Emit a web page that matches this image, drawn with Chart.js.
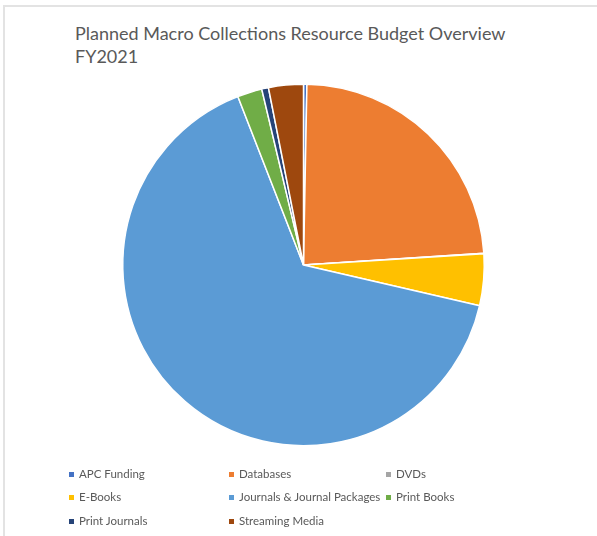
<!DOCTYPE html>
<html>
<head>
<meta charset="utf-8">
<script src="https://cdn.jsdelivr.net/npm/chart.js@4.4.1/dist/chart.umd.min.js"></script>
<style>
	html, body { margin: 0; padding: 0; background: #fff; }
	#wrap { position: relative; width: 597px; height: 536px; overflow: hidden; }
	#frame { position: absolute; left: 3px; top: 5px; width: 700px; height: 700px; border-left: 2px solid #e3e3e3; border-top: 2px solid #e3e3e3; }
	#title { position: absolute; left: 75px; top: 22px; font-family: Lato, sans-serif; font-size: 18px; line-height: 23px; color: #595959; }
	#budgetChart { position: absolute; left: 0; top: 0; }
	#legend { position: absolute; left: 0; top: 0; font-family: Lato, sans-serif; font-size: 11.5px; color: #595959; }
	.item { position: absolute; white-space: nowrap; line-height: 14px; }
	.item span { display: inline-block; width: 5px; height: 5px; margin-right: 5px; vertical-align: middle; position: relative; top: -1px; }
</style>
</head>
<body>
<div id="wrap">
	<div id="frame"></div>
	<div id="title">Planned Macro Collections Resource Budget Overview<br>FY2021</div>
	<canvas id="budgetChart" width="597" height="536"></canvas>
	<div id="legend"></div>
</div>
<script>
// budget share per category (percent)
const categories = ["APC Funding", "Databases", "DVDs", "E-Books", "Journals & Journal Packages", "Print Books", "Print Journals", "Streaming Media"];
const shares = [0.3, 23.6, 0.05, 4.6, 65.3, 2.2, 0.6, 3.1];
const colors = ["#4472C4", "#ED7D31", "#A5A5A5", "#FFC000", "#5B9BD5", "#70AD47", "#264478", "#9E480E"];

const ctx = document.getElementById("budgetChart").getContext("2d");
const chart = new Chart(ctx, {
	type: "pie",
	data: {
		labels: categories,
		datasets: [
			{
				data: shares,
				backgroundColor: colors,
				borderColor: "#ffffff",
				borderWidth: 1.5,
			},
		],
	},
	options: {
		responsive: false,
		animation: false,
		layout: { padding: { left: 122, right: 112, top: 83, bottom: 89 } },
		plugins: {
			legend: { display: false },
			tooltip: { enabled: false },
		},
	},
});

// legend laid out in 3 columns like the original
const legendEl = document.getElementById("legend");
const colX = [69, 229, 386];
const rowY = [467, 490, 514];
categories.forEach((name, i) => {
	const div = document.createElement("div");
	div.className = "item";
	div.style.left = colX[i % 3] + "px";
	div.style.top = rowY[Math.floor(i / 3)] + "px";
	div.innerHTML = '<span style="background:' + colors[i] + '"></span>';
	div.appendChild(document.createTextNode(name));
	legendEl.appendChild(div);
});
</script>
</body>
</html>
